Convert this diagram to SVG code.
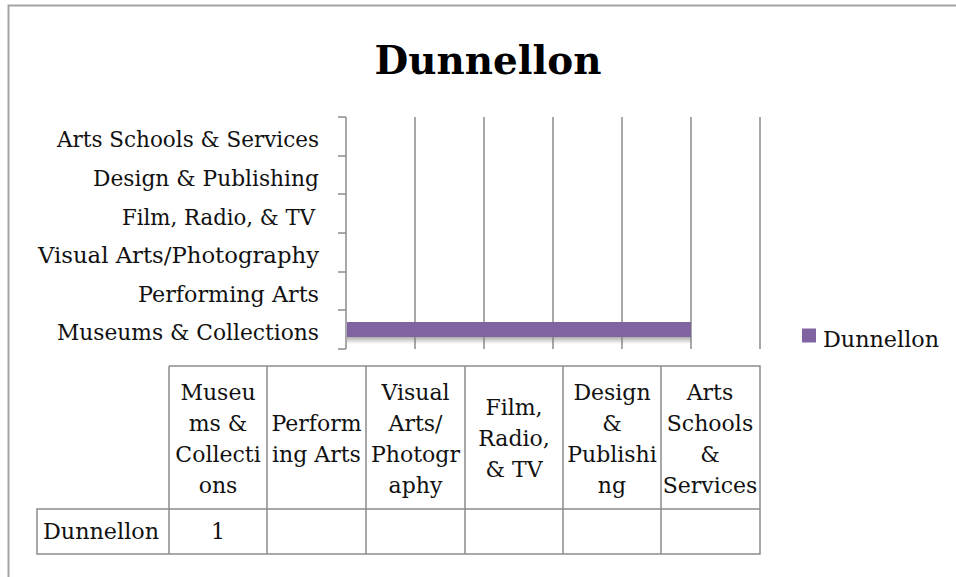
<svg xmlns="http://www.w3.org/2000/svg" width="956" height="577" viewBox="0 0 956 577">
<style>
.t{font-family:"DejaVu Serif","Liberation Serif",serif;font-size:22px;fill:#111}
.c{text-anchor:middle}
.title{font-family:"DejaVu Serif","Liberation Serif",serif;font-size:40px;font-weight:bold;fill:#000;text-anchor:middle}
.grid{stroke:#8c8c8c;stroke-width:1.5;fill:none}
.tbl{stroke:#8c8c8c;stroke-width:1.5;fill:none}
.frame{stroke:#a3a3a3;stroke-width:2;fill:none}
</style>
<defs>
<linearGradient id="shadow" x1="0" y1="0" x2="0" y2="1">
<stop offset="0" stop-color="#777" stop-opacity="0.6"/>
<stop offset="1" stop-color="#777" stop-opacity="0"/>
</linearGradient>
</defs>
<rect width="956" height="577" fill="#fff"/>
<g id="frame"><path class="frame" d="M8.5,577 V5.5 H956"/></g>
<g id="title"><text class="title" x="488" y="74" textLength="227" lengthAdjust="spacingAndGlyphs">Dunnellon</text></g>
<g id="axis">
<path class="grid" d="M346,117 V349 M338,117 H346 M338,156 H346 M338,194 H346 M338,233 H346 M338,272 H346 M338,310 H346 M338,349 H346"/>
<text class="t" x="57" y="147" textLength="262" lengthAdjust="spacingAndGlyphs">Arts Schools &amp; Services</text>
<text class="t" x="93" y="186" textLength="226" lengthAdjust="spacingAndGlyphs">Design &amp; Publishing</text>
<text class="t" x="122" y="225" textLength="193" lengthAdjust="spacingAndGlyphs">Film, Radio, &amp; TV</text>
<text class="t" x="38" y="263" textLength="281" lengthAdjust="spacingAndGlyphs">Visual Arts/Photography</text>
<text class="t" x="138" y="302" textLength="181" lengthAdjust="spacingAndGlyphs">Performing Arts</text>
<text class="t" x="57" y="340" textLength="262" lengthAdjust="spacingAndGlyphs">Museums &amp; Collections</text>
</g>
<g id="gridlines">
<path class="grid" d="M415,117 V349 M484,117 V349 M553,117 V349 M622,117 V349 M691,117 V349 M760,117 V349"/>
</g>
<g id="bar">
<rect x="347" y="337" width="344" height="7" fill="url(#shadow)"/>
<rect x="347" y="322" width="344" height="15" fill="#8064a2"/>
</g>
<g id="legend">
<rect x="802" y="328.5" width="14" height="14" fill="#8064a2"/>
<text class="t" x="823" y="347" textLength="116" lengthAdjust="spacingAndGlyphs">Dunnellon</text>
</g>
<g id="table">
<path class="tbl" d="M169,366 H760 V554 H37 V509 H760 M169,366 V554 M267,366 V554 M366,366 V554 M465,366 V554 M563,366 V554 M661,366 V554 M37,509 H169"/>
<g class="t c">
<text x="218" y="400">Museu</text>
<text x="218" y="431">ms &amp;</text>
<text x="218" y="462">Collecti</text>
<text x="218" y="493">ons</text>
<text x="316.5" y="431">Perform</text>
<text x="316.5" y="462">ing Arts</text>
<text x="415.5" y="400">Visual</text>
<text x="415.5" y="431">Arts/</text>
<text x="415.5" y="462">Photogr</text>
<text x="415.5" y="493">aphy</text>
<text x="514" y="415">Film,</text>
<text x="514" y="446">Radio,</text>
<text x="514" y="477">&amp; TV</text>
<text x="612" y="400">Design</text>
<text x="612" y="431">&amp;</text>
<text x="612" y="462">Publishi</text>
<text x="612" y="493">ng</text>
<text x="710" y="400">Arts</text>
<text x="710" y="431">Schools</text>
<text x="710" y="462">&amp;</text>
<text x="710" y="493">Services</text>
<text x="218" y="539">1</text>
</g>
<text class="t" x="43" y="539" textLength="116" lengthAdjust="spacingAndGlyphs">Dunnellon</text>
</g>
</svg>
